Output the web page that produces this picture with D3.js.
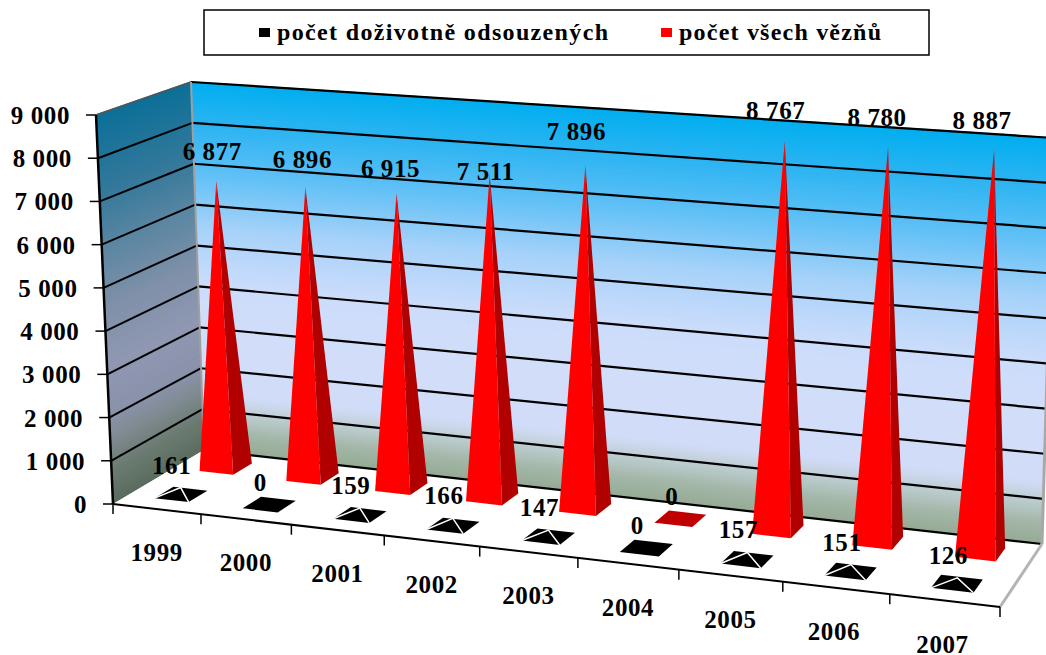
<!DOCTYPE html>
<html><head><meta charset="utf-8">
<script src="https://cdnjs.cloudflare.com/ajax/libs/d3/7.8.5/d3.min.js"></script>
<style>html,body{margin:0;padding:0;background:#fff;overflow:hidden}svg{display:block}text{font-family:"Liberation Serif",serif;font-weight:bold;fill:#000}</style>
</head><body><svg id="c" width="1046" height="655"></svg>
<script>
const years = ["1999","2000","2001","2002","2003","2004","2005","2006","2007"];
const lifers = [161,0,159,166,147,0,157,151,126];
const prisoners = [6877,6896,6915,7511,7896,0,8767,8780,8887];
const yTicks = [0,1000,2000,3000,4000,5000,6000,7000,8000,9000];
const legendLabels = ["počet doživotně odsouzených","počet všech vězňů"];
const fmt = v => d3.format(",")(v).replace(/,/g," ");

const svg = d3.select("#c");
const hScale = d3.scaleLinear().domain([0,9000]).range([0,1]);
const band = d3.scaleBand().domain(years).range([0,1]);
const depth = d3.scaleOrdinal().domain(["lifers","prisoners"]).range([0.27,0.77]);

// projection of the 3D box
const FL=[113,504],FR=[1000,607],BL=[204,450],BR=[1042,544];
const vFL=[-17,-389],vFR=[29,-425],vBL=[-13,-368],vBR=[12,-406];
const persp = (u,v) => u/(u+(1.135-0.03*v)*(1-u));
const bil=(a,b,c,d,t,v,i)=>(a[i]*(1-t)+b[i]*t)*(1-v)+(c[i]*(1-t)+d[i]*t)*v;
function P(u,v,h){const t=persp(u,v);
  return [bil(FL,FR,BL,BR,t,v,0)+h*bil(vFL,vFR,vBL,vBR,t,v,0),
          bil(FL,FR,BL,BR,t,v,1)+h*bil(vFL,vFR,vBL,vBR,t,v,1)];}
const poly=pts=>pts.map(p=>p.map(n=>n.toFixed(2)).join(",")).join(" ");
const line=d3.line();

// walls, painted as gradient bands that follow the perspective
const backCol=d3.scaleLinear()
  .domain([0,.05,.09,.125,.15,.3,.45,.6,.75,.88,1])
  .range(["#96ab96","#a4b7a8","#b6c8c6","#c8d5e4","#d0dcf8","#d2def9","#cbdcfb","#a7d2f9","#5fc0f6","#2cb4f2","#00aeef"]);
const sideCol=d3.scaleLinear()
  .domain([0,.08,.16,.22,.35,.5,.65,.8,1])
  .range(["#5a6c5e","#6a7a70","#7f8a90","#8a92aa","#8f97b2","#7f90a8","#5b86a2","#33789a","#0a6f98"]);
const strips=d3.range(0,1,1/150);
svg.append("g").selectAll("polygon").data(strips).join("polygon")
 .attr("points",h=>poly([P(0,1,h),P(1,1,h),P(1,1,h+1/150+.002),P(0,1,h+1/150+.002)]))
 .attr("fill",h=>backCol(h));
svg.append("g").selectAll("polygon").data(strips).join("polygon")
 .attr("points",h=>poly([P(0,0,h),P(0,1,h),P(0,1,h+1/150+.002),P(0,0,h+1/150+.002)]))
 .attr("fill",h=>sideCol(h));

// floor
svg.append("polygon").attr("points",poly([P(0,0,0),P(1,0,0),P(1,1,0),P(0,1,0)])).attr("fill","#fff");

// gridlines
const grid=svg.append("g").attr("fill","none").attr("stroke","#000").attr("stroke-width",2.2);
yTicks.forEach(v=>{const h=hScale(v);
  if(v>0) grid.append("path").attr("d",line([P(0,0,h),P(0,1,h)])).attr("stroke-width",v===9000?1.5:2).attr("stroke",v===9000?"#555":"#000");
  grid.append("path").attr("d",line([P(0,1,h),P(1,1,h)]));
});
// edges
svg.append("path").attr("d",line([P(0,1,0),P(0,1,1)])).attr("stroke","#a0a0a0").attr("stroke-width",2).attr("fill","none");
svg.append("path").attr("d",line([P(1,1,0),P(1,1,1)])).attr("stroke","#a8a8a8").attr("stroke-width",3).attr("fill","none");
svg.append("path").attr("d",line([P(1,0,0),P(1,1,0)])).attr("stroke","#b4b4b4").attr("stroke-width",3).attr("fill","none");
svg.append("path").attr("d",line([P(0,0,0),P(0,0,1)])).attr("stroke","#000").attr("stroke-width",2.5).attr("fill","none");
svg.append("path").attr("d",line([P(0,0,0),P(1,0,0)])).attr("stroke","#000").attr("stroke-width",2).attr("fill","none");

// axis ticks
const FS=25, LS=0.6;
const ticks=svg.append("g").attr("stroke","#000").attr("stroke-width",1.5);
yTicks.forEach(v=>{const p=P(0,0,hScale(v));
  ticks.append("line").attr("x1",p[0]-10).attr("x2",p[0]).attr("y1",p[1]).attr("y2",p[1]);
  svg.append("text").attr("x",p[0]-26).attr("y",p[1]+9).attr("text-anchor","end").attr("font-size",FS).attr("letter-spacing",LS).text(fmt(v));
});
d3.range(years.length+1).forEach(i=>{const p=P(i/years.length,0,0);
  ticks.append("line").attr("x1",p[0]).attr("x2",p[0]).attr("y1",p[1]).attr("y2",p[1]+10);
});
years.forEach(y=>{const p=P(band(y)+band.bandwidth()/2,0,0);
  svg.append("text").attr("x",p[0]-(+y>2005?2:0)).attr("y",p[1]+52).attr("text-anchor","middle").attr("font-size",FS).attr("letter-spacing",LS).text(y);
});

// pyramids
const hw=band.bandwidth()*0.195, hd=0.105;
const labelMoved={"1999":[5,1],"2000":[6,3],"2001":[3,6],"2002":[5,27],"2003":[0,-3],"2006":[-2,1],"2007":[-3,1]};   // labels the reference shifted by hand
function corners(y,s){const c=band(y)+band.bandwidth()/2,v=depth(s);
  return {fl:P(c-hw,v-hd,0),fr:P(c+hw,v-hd,0),br:P(c+hw,v+hd,0),bl:P(c-hw,v+hd,0),c,v};}
const redG=svg.append("g"), blackG=svg.append("g"), labelG=svg.append("g");
years.forEach((y,i)=>{
  const q=corners(y,"prisoners"), val=prisoners[i];
  const a=P(q.c,q.v,hScale(val));
  const m=labelMoved[y]||[0,0];
  if(val===0){
    redG.append("polygon").attr("points",poly([q.fl,q.fr,q.br,q.bl])).attr("fill","#c00000");
    labelG.append("text").attr("x",a[0]-9).attr("y",a[1]-14).attr("text-anchor","middle").attr("font-size",FS).text(fmt(val));
  } else {
    redG.append("polygon").attr("points",poly([q.fr,q.br,a])).attr("fill","#b00000");
    redG.append("polygon").attr("points",poly([q.fl,q.fr,a])).attr("fill","#ff0000");
    labelG.append("text").attr("x",a[0]-9+m[0]).attr("y",a[1]-22+m[1]).attr("text-anchor","middle").attr("font-size",FS).attr("letter-spacing",LS).text(fmt(val));
  }
  const k=corners(y,"lifers"), lv=lifers[i];
  const b=P(k.c,k.v,hScale(lv));
  blackG.append("polygon").attr("points",poly([k.fl,k.fr,k.br,k.bl])).attr("fill","#000");
  if(lv>0){
    blackG.append("path").attr("d",line([k.fl,b,k.fr])).attr("fill","none").attr("stroke","#fff").attr("stroke-width",1.5);
  }
  labelG.append("text").attr("x",b[0]-9).attr("y",b[1]-14).attr("text-anchor","middle").attr("font-size",FS).attr("letter-spacing",LS).text(fmt(lv));
});

// legend
const lg=svg.append("g");
lg.append("rect").attr("x",204).attr("y",10).attr("width",725).attr("height",45).attr("fill","#fff").attr("stroke","#000").attr("stroke-width",1.5);
const legendColors=["#000","#ff0000"], mx=[259,661], tx=[277,679], tw=[331,202];
legendLabels.forEach((t,i)=>{
  lg.append("rect").attr("x",mx[i]).attr("y",28).attr("width",11).attr("height",9).attr("fill",legendColors[i]);
  lg.append("text").attr("x",tx[i]).attr("y",40).attr("font-size",24).attr("textLength",tw[i]).attr("lengthAdjust","spacing").text(t);
});
</script></body></html>
